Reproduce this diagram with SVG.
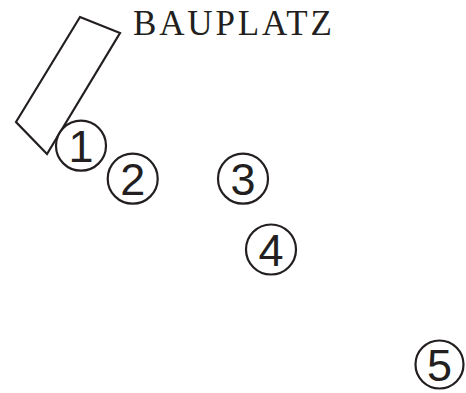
<svg xmlns="http://www.w3.org/2000/svg" width="466" height="393" viewBox="0 0 466 393">
  <style>
    .outline { fill: #ffffff; stroke: #231f20; stroke-width: 2.2; }
    .num { font-family: "Liberation Sans", Arial, sans-serif; font-size: 45px; fill: #231f20; text-anchor: middle; }
    .label { font-family: "Liberation Serif", "DejaVu Serif", serif; font-size: 35px; fill: #231f20; }
  </style>
  <rect width="466" height="393" fill="#ffffff"/>
  <!-- building site outline -->
  <g id="bauplatz">
    <polygon class="outline" points="80,17 120,33 47,154 16,122"/>
    <text class="label" x="133" y="35" textLength="199" lengthAdjust="spacing">BAUPLATZ</text>
  </g>
  <g id="connectors"></g>
  <!-- numbered positions -->
  <g id="p1">
    <circle class="outline" cx="81" cy="145.7" r="25"/>
    <text class="num" x="81" y="162">1</text>
  </g>
  <g id="p2">
    <circle class="outline" cx="132.7" cy="178.7" r="25"/>
    <text class="num" x="132.7" y="195">2</text>
  </g>
  <g id="p3">
    <circle class="outline" cx="243" cy="178.7" r="25"/>
    <text class="num" x="243" y="195">3</text>
  </g>
  <g id="p4">
    <circle class="outline" cx="271" cy="249.5" r="25"/>
    <text class="num" x="271" y="266">4</text>
  </g>
  <g id="p5">
    <circle class="outline" cx="439.5" cy="364.5" r="24"/>
    <text class="num" x="439.5" y="381">5</text>
  </g>
</svg>
